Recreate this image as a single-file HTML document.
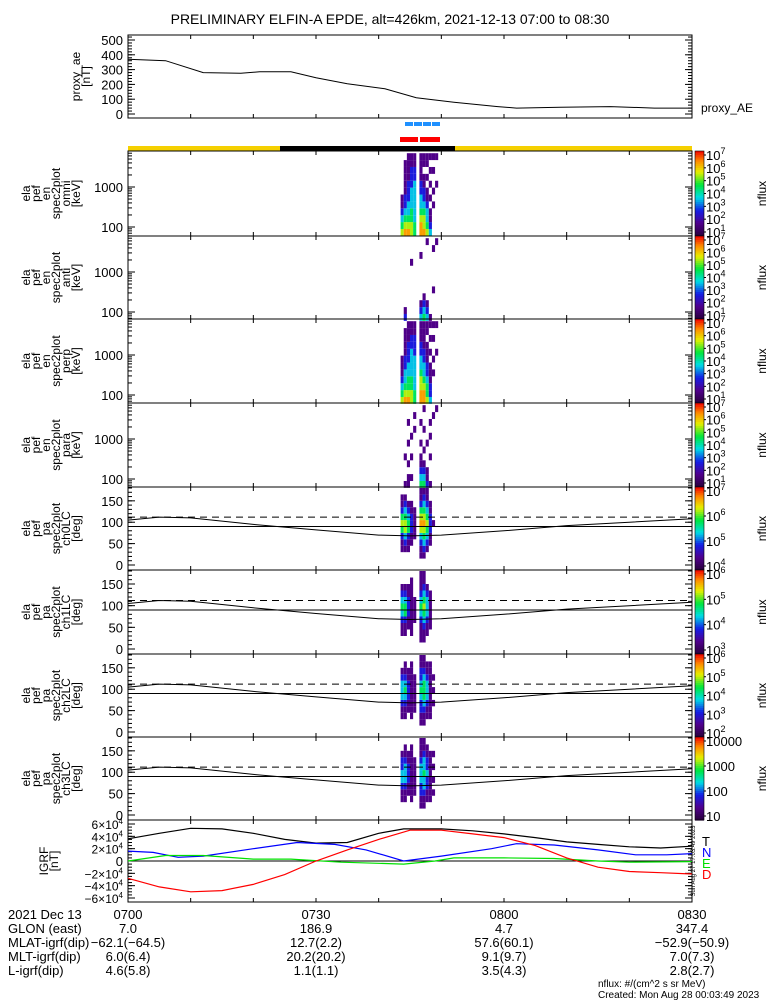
<!DOCTYPE html>
<html><head><meta charset="utf-8"><style>
html,body{margin:0;padding:0;background:#fff;}
svg{display:block;font-family:"Liberation Sans",sans-serif;}
</style></head><body>
<svg id="chart" width="775" height="1000" viewBox="0 0 775 1000" xmlns="http://www.w3.org/2000/svg"></svg>
<script>
// ---------- data ----------
const aeMinutes = [0,6,12,18,21,26,30,35,41,46,52,59,62,69,77,84,90];
const aeValues  = [370,360,280,275,285,285,245,205,170,110,80,50,40,45,50,40,40];
const lcMinutes = [0,5,10,20,30,40,45,50,60,70,80,90];
const lcDeg     = [105,112,110,95,82,70,68,70,80,92,100,108];
const igTMin = [0,5,10,15,20,25,30,35,40,44,50,55,60,65,70,75,80,85,90];
const igT    = [36000,45000,53000,52000,45000,35000,29000,30000,45000,52000,52000,49000,44000,38000,31000,27000,23000,21000,24000];
const igDMin = [0,5,10,15,20,25,30,35,40,45,50,55,60,65,70,75,80,85,90];
const igD    = [-28000,-42000,-50000,-48000,-38000,-22000,0,18000,35000,50000,50000,44000,38000,25000,5000,-10000,-17000,-19000,-21000];
const igNMin = [0,4,8,12,20,27,33,38,44,50,58,62,68,75,81,86,90];
const igN    = [16000,14000,6000,8000,20000,30000,27000,18000,0,8000,20000,28000,26000,18000,10000,10000,12000];
const igEMin = [0,6,12,20,26,34,44,49,52,60,68,75,80,90];
const igE    = [0,9000,9000,3000,3000,-2000,-5000,0,5000,5000,4000,0,-2000,-1000];
const specTimes = [43.5,44,44.5,45,45.5,46,46.5,47,47.5,48,48.5,49];
const omniFlux = [
 [5,4,3,2,1,1,0,0,0,0,0,0],[6,5,4,3,2,2,1,1,1,1,1,0],[6,5,4,3,3,2,2,2,1,1,1,1],
 [5,5,4,4,3,3,3,2,2,2,1,1],[4,4,3,3,3,3,3,3,2,2,1,1],[0,0,0,0,0,0,0,0,0,0,0,0],
 [6,6,5,4,3,3,2,2,1,1,1,1],[6,5,5,4,3,2,2,1,1,0,1,1],[5,4,3,3,2,1,1,0,1,0,1,1],
 [3,2,1,1,0,1,0,1,0,1,0,1],[0,0,0,0,1,0,1,0,0,1,0,1],[0,0,0,0,0,0,0,1,0,0,0,1]];
const antiFlux = [
 [0,0,0,0,0,0,0,0,0,0,0,0],[2,1,0,0,0,0,0,0,0,0,0,0],[0,0,0,0,0,0,0,0,0,0,0,0],
 [0,0,0,0,0,0,0,0,1,0,0,0],[0,0,0,0,0,0,0,0,0,0,0,0],[0,0,0,0,0,0,0,0,0,0,0,0],
 [3,2,1,0,0,0,0,0,0,1,0,0],[4,3,2,1,0,0,0,0,0,0,0,0],[3,2,1,0,0,0,0,0,0,0,0,1],
 [1,0,0,0,0,0,0,0,0,0,0,0],[0,0,0,0,1,0,0,0,0,0,1,0],[0,0,0,0,0,0,0,0,0,0,0,1]];
const perpFlux = [
 [5,4,3,2,1,1,1,0,0,0,0,0],[6,5,4,3,3,2,2,1,1,1,1,0],[6,5,4,4,3,3,2,2,2,1,1,1],
 [5,5,4,4,3,3,3,3,2,2,1,1],[4,4,3,3,3,3,3,2,2,2,1,1],[0,0,0,0,0,0,0,0,0,0,0,0],
 [6,6,5,5,4,3,3,2,2,1,1,1],[6,6,5,4,3,3,2,2,1,1,1,1],[5,4,4,3,2,2,1,1,1,0,1,1],
 [3,2,2,1,1,1,0,1,0,1,0,1],[0,0,0,0,1,0,1,0,0,1,0,1],[0,0,0,0,0,0,0,1,0,0,0,1]];
const paraFlux = [
 [0,0,0,0,0,0,0,0,0,0,0,0],[1,0,0,0,1,0,0,0,0,0,0,0],[1,1,0,1,0,0,1,0,0,1,0,0],
 [0,1,0,0,1,0,0,1,0,0,0,0],[0,0,0,0,0,0,0,0,1,0,1,0],[0,0,0,0,0,0,0,0,0,0,0,0],
 [4,3,2,1,1,0,1,0,0,1,0,0],[4,3,2,1,0,1,0,0,1,0,0,1],[2,1,1,0,0,0,1,0,0,0,0,0],
 [1,0,0,0,1,0,0,1,0,1,0,0],[0,0,0,0,0,0,0,0,0,0,1,0],[0,0,0,0,0,0,0,0,0,0,0,1]];
const pa0 = [
 [0,0,1,1,2,4,5,4,2,1,1,0],[0,0,1,2,3,5,5,4,3,2,1,0],[0,0,1,1,2,4,4,3,2,1,0,0],
 [0,0,0,1,1,2,2,2,1,1,0,0],[0,0,0,0,1,1,1,1,1,0,0,0],[0,0,0,0,0,0,0,0,0,0,0,0],
 [0,1,1,2,3,5,6,5,4,2,1,1],[0,1,2,3,4,5,6,5,4,3,2,1],[0,0,1,2,3,4,5,4,3,2,1,1],
 [0,0,0,1,1,2,2,2,1,1,0,0],[0,0,0,0,0,0,1,0,0,0,0,0],[0,0,0,0,0,0,0,0,0,0,0,0]];
const pa1 = [
 [0,0,1,1,2,3,4,3,2,1,0,0],[0,0,1,1,2,4,4,3,2,1,0,0],[0,0,0,1,1,2,2,2,1,1,0,0],
 [0,0,1,1,1,1,1,1,1,1,1,0],[0,0,0,0,1,1,1,1,0,0,0,0],[0,0,0,0,0,0,0,0,0,0,0,0],
 [0,1,1,1,2,3,4,3,2,1,1,1],[0,1,1,2,3,4,5,4,3,2,1,1],[0,0,1,1,2,3,3,3,2,1,0,0],
 [0,0,0,1,1,1,1,1,1,0,0,0],[0,0,0,0,0,0,0,0,0,0,0,0],[0,0,0,0,0,0,0,0,0,0,0,0]];
const pa2 = [
 [0,0,1,1,2,3,3,3,2,1,0,0],[0,0,1,1,2,3,4,3,2,1,1,0],[0,0,0,1,1,2,2,2,1,1,0,0],
 [0,0,1,1,1,1,1,1,1,1,1,0],[0,0,0,1,1,1,1,1,1,0,0,0],[0,0,0,0,0,0,0,0,0,0,0,0],
 [0,1,1,2,2,3,4,3,2,2,1,1],[0,1,1,2,3,4,4,4,3,2,1,1],[0,0,1,1,2,3,3,3,2,1,1,0],
 [0,0,1,1,1,1,1,1,1,1,1,0],[0,0,0,0,1,0,1,0,1,0,0,0],[0,0,0,0,0,0,0,0,0,0,0,0]];
const pa3 = [
 [0,0,1,1,2,3,3,2,2,1,0,0],[0,0,1,1,2,3,3,3,2,1,1,0],[0,0,0,1,1,2,2,2,1,1,0,0],
 [0,0,1,1,1,1,1,1,1,1,1,0],[0,0,0,1,1,1,1,1,1,0,0,0],[0,0,0,0,0,0,0,0,0,0,0,0],
 [0,1,1,2,2,3,3,3,2,1,1,1],[0,1,1,2,3,3,4,3,3,2,1,1],[0,0,1,1,2,2,3,2,2,1,1,0],
 [0,0,1,1,1,1,1,1,1,1,0,0],[0,0,0,1,0,1,0,1,0,1,0,0],[0,0,0,0,0,0,0,0,0,0,0,0]];
const xTickLabels = ["0700","0730","0800","0830"];

// ---------- helpers ----------
const svg = document.getElementById('chart');
const NS = 'http://www.w3.org/2000/svg';
function mk(tag, attrs, parent){const e=document.createElementNS(NS,tag);for(const k in attrs)e.setAttribute(k,attrs[k]);(parent||svg).appendChild(e);return e;}
const X0=128, X1=692;
function xm(m){return X0+m*(X1-X0)/90;}
function colorOf(v){
  const stops=[[0,[40,0,60]],[0.15,[80,0,140]],[0.3,[20,30,230]],[0.45,[0,220,230]],[0.6,[0,230,60]],[0.75,[230,240,0]],[0.88,[255,140,0]],[1,[240,0,0]]];
  for(let i=1;i<stops.length;i++){if(v<=stops[i][0]){const a=stops[i-1],b=stops[i];const t=(v-a[0])/(b[0]-a[0]);const c=a[1].map((q,j)=>Math.round(q+(b[1][j]-q)*t));return `rgb(${c})`;}}
  return 'rgb(240,0,0)';
}
function txt(x,y,s,attrs,parent){const t=mk('text',Object.assign({x:x,y:y,'font-size':12,fill:'#000'},attrs||{}),parent);t.textContent=s;return t;}
function frame(top,bot,name){
  const g=mk('g',{});
  
  
  mk('rect',{x:X0,y:top,width:X1-X0,height:bot-top,fill:'none',stroke:'#000','stroke-width':1},g);
  for(let m=0;m<=90;m+=10){const x=xm(m);mk('line',{x1:x,y1:bot,x2:x,y2:bot-4,stroke:'#000'},g);mk('line',{x1:x,y1:top,x2:x,y2:top+4,stroke:'#000'},g);}
  return g;
}
function yTicks(g,top,bot,ymap,majors,minors){
  majors.forEach(v=>{const y=ymap(v);mk('line',{x1:X0,y1:y,x2:X0+7,y2:y,stroke:'#000'},g);mk('line',{x1:X1,y1:y,x2:X1-7,y2:y,stroke:'#000'},g);});
  minors.forEach(v=>{const y=ymap(v);if(y<top||y>bot)return;mk('line',{x1:X0,y1:y,x2:X0+4,y2:y,stroke:'#000'},g);mk('line',{x1:X1,y1:y,x2:X1-4,y2:y,stroke:'#000'},g);});
}
function sideLabel(lines,top,bot,x0){
  const cy=(top+bot)/2;
  lines.forEach((s,i)=>{const x=x0+i*10;const t=txt(x,cy,s,{'font-size':12,'text-anchor':'middle',transform:`rotate(-90 ${x} ${cy})`});
    });
}
function colorbar(top,bot,labels,name){
  const g=mk('g',{});
  
  
  const n=40;const h=(bot-top)/n;
  for(let i=0;i<n;i++){mk('rect',{x:695,y:top+i*h,width:9,height:h+0.6,fill:colorOf(1-(i+0.5)/n)},g);}
  mk('rect',{x:695,y:top,width:9,height:bot-top,fill:'none',stroke:'#000','stroke-width':0.6},g);
  labels.forEach((l,i)=>{const y=bot-4-i*(bot-top-8)/(labels.length-1);
    const t=txt(706,y+5,l[0],{'font-size':13},g);if(l[1]){const sp=mk('tspan',{dy:-6,'font-size':9},t);sp.textContent=l[1];}
    mk('line',{x1:704,y1:y,x2:706,y2:y,stroke:'#000'},g);});
  const cy=(top+bot)/2;
  txt(766,cy,'nflux',{'font-size':12,'text-anchor':'middle',transform:`rotate(-90 766 ${cy})`},g);
}
const decLabels=[['10','1'],['10','2'],['10','3'],['10','4'],['10','5'],['10','6'],['10','7']];

// ---------- title ----------
const title=txt(390,24,'PRELIMINARY ELFIN-A EPDE, alt=426km, 2021-12-13 07:00 to 08:30',{'font-size':14,'text-anchor':'middle'});


// ---------- AE panel ----------
(function(){
  const top=35,bot=118;const ym=v=>114-v*(74/500);
  const g=frame(top,bot,'proxy-ae-panel');
  yTicks(g,top,bot,ym,[0,100,200,300,400,500],Array.from({length:27},(_,i)=>i*20));
  [0,100,200,300,400,500].forEach(v=>txt(123,ym(v)+5,String(v),{'text-anchor':'end','font-size':13},g));
  let d='';aeMinutes.forEach((m,i)=>{d+=(i?'L':'M')+xm(m).toFixed(1)+' '+ym(aeValues[i]).toFixed(1);});
  const p=mk('path',{d:d,fill:'none',stroke:'#000','stroke-width':1},g);
  
  sideLabel(['proxy_ae','[nT]'],top,bot,80);
  txt(701,112,'proxy_AE',{'font-size':12},g);
})();

// ---------- science zone bars ----------
(function(){
  const g=mk('g',{});
  
  for(let i=0;i<4;i++)mk('rect',{x:405+i*9,y:122,width:8,height:4,fill:'#1e90ff'},g);
  mk('rect',{x:400,y:137,width:18,height:5,fill:'#f00'},g);mk('rect',{x:420,y:137,width:20,height:5,fill:'#f00'},g);
  mk('rect',{x:X0,y:146,width:X1-X0,height:5,fill:'#f5d000'},g);
  mk('rect',{x:280,y:146,width:175,height:5,fill:'#000'},g);
})();

// ---------- spectrograms ----------
const colW=(X1-X0)/90*0.5;
function energyPanel(top,bot,flux,name,sub){
  const g=frame(top,bot,name);
  const yE=e=>(top+76)-(Math.log10(e)-2)*40;
  const lo=Math.log10(60),hi=Math.log10(7000),nb=12,step=(hi-lo)/nb;
  flux.forEach((col,ci)=>{col.forEach((v,bi)=>{if(!v)return;
    const y1=yE(Math.pow(10,lo+(bi+1)*step)),y2=yE(Math.pow(10,lo+bi*step));
    const r=mk('rect',{x:xm(specTimes[ci]),y:y1,width:colW,height:y2-y1,fill:colorOf(v/7)},g);
    });});
  const majors=[100,1000];const minors=[];
  for(let d=10;d<=1000;d*=10)for(let k=2;k<=9;k++)minors.push(d*k);
  yTicks(g,top,bot,yE,majors,minors);
  txt(123,yE(100)+5,'100',{'text-anchor':'end','font-size':13},g);
  txt(123,yE(1000)+5,'1000',{'text-anchor':'end','font-size':13},g);
  sideLabel(['ela','pef','en','spec2plot',sub,'[keV]'],top,bot,30);
  colorbar(top,bot,decLabels,name+'-colorbar');
}
function paPanel(top,bot,flux,name,sub,cbl){
  const g=frame(top,bot,name);
  const yP=p=>(bot-5)-p*((bot-top-6)/180);
  const nb=12,step=180/nb;
  flux.forEach((col,ci)=>{col.forEach((v,bi)=>{if(!v)return;
    const y1=yP((bi+1)*step),y2=yP(bi*step);
    const r=mk('rect',{x:xm(specTimes[ci]),y:y1,width:colW,height:y2-y1,fill:colorOf(v/7)},g);
    });});
  mk('line',{x1:X0,y1:yP(90),x2:X1,y2:yP(90),stroke:'#000'},g);
  mk('line',{x1:X0,y1:yP(112),x2:X1,y2:yP(112),stroke:'#000','stroke-dasharray':'7,5'},g);
  let d='';lcMinutes.forEach((m,i)=>{d+=(i?'L':'M')+xm(m).toFixed(1)+' '+yP(lcDeg[i]).toFixed(1);});
  const p=mk('path',{d:d,fill:'none',stroke:'#000'},g);
  
  yTicks(g,top,bot,yP,[0,50,100,150],Array.from({length:19},(_,i)=>i*10));
  [0,50,100,150].forEach(v=>txt(123,yP(v)+5,String(v),{'text-anchor':'end','font-size':13},g));
  sideLabel(['ela','pef','pa','spec2plot',sub,'[deg]'],top,bot,30);
  colorbar(top,bot,cbl,name+'-colorbar');
}
energyPanel(151,236,omniFlux,'omni-panel','omni');
energyPanel(236,319,antiFlux,'anti-panel','anti');
energyPanel(319,403,perpFlux,'perp-panel','perp');
energyPanel(403,487,paraFlux,'para-panel','para');
paPanel(487,570,pa0,'ch0lc-panel','ch0LC',[['10','4'],['10','5'],['10','6'],['10','7']]);
paPanel(570,654,pa1,'ch1lc-panel','ch1LC',[['10','3'],['10','4'],['10','5'],['10','6']]);
paPanel(654,737,pa2,'ch2lc-panel','ch2LC',[['10','2'],['10','3'],['10','4'],['10','5'],['10','6']]);
paPanel(737,820,pa3,'ch3lc-panel','ch3LC',[['10',''],['100',''],['1000',''],['10000','']]);

// ---------- IGRF ----------
(function(){
  const top=820,bot=902;const yB=v=>861-v*(37/60000);
  const g=frame(top,bot,'igrf-panel');
  yTicks(g,top,bot,yB,[-60000,-40000,-20000,0,20000,40000,60000],Array.from({length:25},(_,i)=>-60000+i*5000));
  mk('line',{x1:X0,y1:yB(0),x2:X1,y2:yB(0),stroke:'#000'},g);
  [-6,-4,-2,2,4,6].forEach(v=>{const t=txt(123,yB(v*10000)+5,(v<0?'\u2212':'')+Math.abs(v)+'\u00d710',{'text-anchor':'end','font-size':12},g);
    const s=mk('tspan',{dy:-5,'font-size':8},t);s.textContent='4';});
  txt(123,yB(0)+5,'0',{'text-anchor':'end','font-size':13},g);
  const series=[[igTMin,igT,'#000','T','igrf-t-line'],[igNMin,igN,'#0000ff','N','igrf-n-line'],[igEMin,igE,'#00e000','E','igrf-e-line'],[igDMin,igD,'#ff0000','D','igrf-d-line']];
  series.forEach((s,si)=>{let d='';s[0].forEach((m,i)=>{d+=(i?'L':'M')+xm(m).toFixed(1)+' '+yB(s[1][i]).toFixed(1);});
    const p=mk('path',{d:d,fill:'none',stroke:s[2],'stroke-width':1.2},g);
    
    const t=txt(702,846+si*11,s[3],{'font-size':13,fill:s[2]},g);
    });
  sideLabel(['IGRF','[nT]'],top,bot,48);
  txt(695,861,'Sun Aug 27 17:03:49 2023',{'font-size':6,'text-anchor':'middle',transform:'rotate(-90 695 861)'},g);
})();

// ---------- bottom annotation ----------
(function(){
  const g=mk('g',{});
  
  const rows=['2021 Dec 13','GLON (east)','MLAT-igrf(dip)','MLT-igrf(dip)','L-igrf(dip)'];
  const vals=[
    xTickLabels,
    ['7.0','186.9','4.7','347.4'],
    ['\u221262.1(\u221264.5)','12.7(2.2)','57.6(60.1)','\u221252.9(\u221250.9)'],
    ['6.0(6.4)','20.2(20.2)','9.1(9.7)','7.0(7.3)'],
    ['4.6(5.8)','1.1(1.1)','3.5(4.3)','2.8(2.7)']];
  rows.forEach((r,i)=>{const y=919+i*14;txt(8,y,r,{'font-size':13},g);
    vals[i].forEach((v,j)=>{const t=txt(xm(j*30),y,v,{'font-size':13,'text-anchor':'middle'},g);
      if(i===0){}});});
  txt(598,987,'nflux: #/(cm^2 s sr MeV)',{'font-size':10},g);
  txt(598,998,'Created: Mon Aug 28 00:03:49 2023',{'font-size':10},g);
})();
</script>
</body></html>
